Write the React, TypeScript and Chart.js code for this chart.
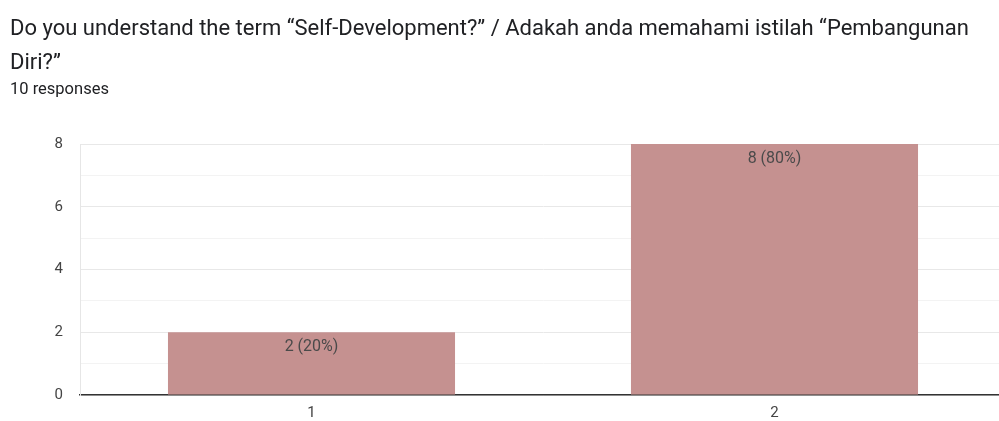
import React, { useEffect, useRef } from "react";
import { Chart, registerables } from "chart.js";

Chart.register(...registerables);

const titleText = "Do you understand the term “Self-Development?” / Adakah anda memahami istilah “Pembangunan Diri?”";
const subtitleText = "10 responses";
const categories = ["1", "2"];
const counts = [2, 8];
const totalResponses = 10;
const yTickLabels = [0, 2, 4, 6, 8];

const labelPlugin = {
  id: "barLabels",
  afterDatasetsDraw(chart: any) {
    const ctx = chart.ctx;
    const meta = chart.getDatasetMeta(0);
    ctx.save();
    ctx.font = "16px Roboto";
    ctx.fillStyle = "#4a4a4a";
    ctx.textAlign = "center";
    ctx.textBaseline = "middle";
    meta.data.forEach((bar: any, i: number) => {
      const v = counts[i];
      const pct = Math.round((v / totalResponses) * 100);
      ctx.fillText(`${v} (${pct}%)`, bar.x, bar.y + 15);
    });
    ctx.restore();
  },
};

export default function App() {
  const ref = useRef<HTMLCanvasElement>(null);
  useEffect(() => {
    if (!ref.current) return;
    const chart = new Chart(ref.current, {
      type: "bar",
      data: {
        labels: categories,
        datasets: [
          {
            data: counts,
            backgroundColor: "#c59190",
            borderWidth: 0,
            categoryPercentage: 1,
            barPercentage: 0.62,
          },
        ],
      },
      options: {
        animation: false,
        responsive: false,
        maintainAspectRatio: false,
        layout: { padding: { top: 144, right: 0, left: 0, bottom: 0 } },
        plugins: { legend: { display: false }, tooltip: { enabled: false }, title: { display: false } },
        scales: {
          x: {
            grid: { display: false, drawTicks: false },
            border: { display: true, color: "#333333", width: 1.5 },
            ticks: { color: "#444444", font: { family: "Roboto", size: 15 }, padding: 9 },
            afterFit: (s: any) => { s.height = 26; },
          },
          y: {
            min: 0,
            max: 8,
            ticks: {
              stepSize: 1,
              color: "#444444",
              font: { family: "Roboto", size: 15 },
              padding: 17,
              callback: (v: any) => (yTickLabels.includes(Number(v)) ? String(v) : ""),
            },
            grid: {
              drawTicks: false,
              color: (c: any) => (c.tick && c.tick.value % 2 === 0 ? "#e8e8e8" : "#f3f3f3"),
            },
            border: { display: true, color: "#e6e6e6" },
            afterFit: (s: any) => { s.width = 80; },
          },
        },
      },
      plugins: [labelPlugin],
    });
    return () => chart.destroy();
  }, []);

  return (
    <div style={{ position: "absolute", left: 0, top: 0, width: 999, height: 421, overflow: "hidden", background: "#fff" }}>
      <canvas ref={ref} width={1006} height={421} style={{ position: "absolute", left: 0, top: 0, width: 1006, height: 421 }} />
      <div style={{ position: "absolute", left: 10, top: 11, width: 980, fontFamily: "Roboto", fontSize: 22, lineHeight: "34px", color: "#202124" }}>
        {titleText}
      </div>
      <div style={{ position: "absolute", left: 10, top: 78, fontFamily: "Roboto", fontSize: 16.5, lineHeight: "22px", color: "#202124" }}>
        {subtitleText}
      </div>
    </div>
  );
}
